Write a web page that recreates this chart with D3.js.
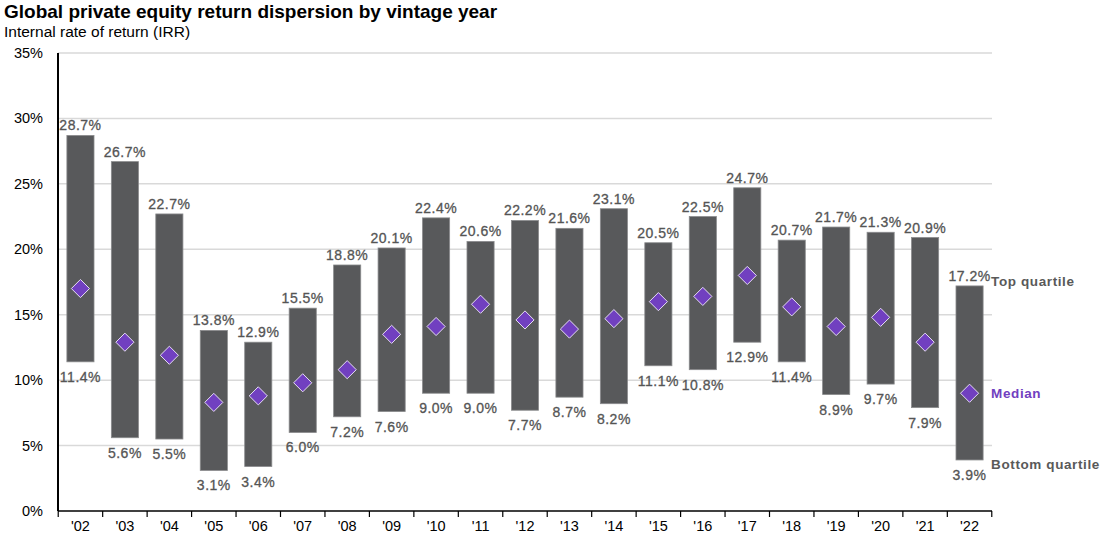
<!DOCTYPE html>
<html>
<head>
<meta charset="utf-8">
<script src="https://cdn.jsdelivr.net/npm/d3@7"></script>
<style>
  body { margin: 0; background: #fff; font-family: "Liberation Sans", Arial, sans-serif; }
</style>
</head>
<body>
<div id="chart"></div>
<script>
const years = ["'02","'03","'04","'05","'06","'07","'08","'09","'10","'11","'12","'13","'14","'15","'16","'17","'18","'19","'20","'21","'22"];
const topQuartile = [28.7,26.7,22.7,13.8,12.9,15.5,18.8,20.1,22.4,20.6,22.2,21.6,23.1,20.5,22.5,24.7,20.7,21.7,21.3,20.9,17.2];
const bottomQuartile = [11.4,5.6,5.5,3.1,3.4,6.0,7.2,7.6,9.0,9.0,7.7,8.7,8.2,11.1,10.8,12.9,11.4,8.9,9.7,7.9,3.9];
const median = [17.0,12.9,11.9,8.3,8.8,9.8,10.8,13.5,14.1,15.8,14.6,13.9,14.7,16.0,16.4,18.0,15.6,14.1,14.8,12.9,9.0];
const yTicks = [0,5,10,15,20,25,30,35];

const data = years.map((y, i) => ({ year: y, top: topQuartile[i], bottom: bottomQuartile[i], median: median[i] }));

const W = 1111, H = 543;
const margin = { top: 53, right: 119, bottom: 32, left: 58 };
const width = W - margin.left - margin.right;
const height = H - margin.top - margin.bottom;

const svg = d3.select("#chart").append("svg")
    .attr("width", W)
    .attr("height", H);

// title
svg.append("text")
    .attr("x", 4).attr("y", 18)
    .style("font-size", "19px").style("font-weight", "bold").style("fill", "#000")
    .text("Global private equity return dispersion by vintage year");
svg.append("text")
    .attr("x", 4).attr("y", 37)
    .style("font-size", "15.5px").style("fill", "#000")
    .text("Internal rate of return (IRR)");

const g = svg.append("g")
    .attr("transform", `translate(${margin.left}, ${margin.top})`);

const x = d3.scaleBand()
    .domain(years)
    .range([0, width])
    .paddingInner(0.39)
    .paddingOuter(0.2);

const y = d3.scaleLinear()
    .domain([0, 35])
    .range([height, 0]);

// gridlines
g.selectAll(".grid")
    .data(yTicks.filter(t => t > 0))
    .enter().append("line")
    .attr("x1", 0).attr("x2", width)
    .attr("y1", d => y(d)).attr("y2", d => y(d))
    .style("stroke", "#d9d9d9").style("stroke-width", 1.5);

// y axis labels
g.selectAll(".ylab")
    .data(yTicks)
    .enter().append("text")
    .attr("x", -15).attr("y", d => y(d) + 5)
    .style("text-anchor", "end")
    .style("font-size", "14.5px").style("fill", "#000")
    .text(d => d + "%");

// bars
g.selectAll(".bar")
    .data(data)
    .enter().append("rect")
    .attr("x", d => x(d.year))
    .attr("width", x.bandwidth())
    .attr("y", d => y(d.top))
    .attr("height", d => y(d.bottom) - y(d.top))
    .style("fill", "#58595b")
    .style("stroke", "#8a8b8d").style("stroke-width", 0.8);

// top labels
g.selectAll(".toplab")
    .data(data)
    .enter().append("text")
    .attr("x", d => x(d.year) + x.bandwidth() / 2)
    .attr("y", d => y(d.top) - 5)
    .style("text-anchor", "middle")
    .style("font-size", "14px").style("fill", "#555")
    .style("stroke", "#555").style("stroke-width", 0.3)
    .style("letter-spacing", "0.5px")
    .text(d => d.top.toFixed(1) + "%");

// bottom labels
g.selectAll(".botlab")
    .data(data)
    .enter().append("text")
    .attr("x", d => x(d.year) + x.bandwidth() / 2)
    .attr("y", d => y(d.bottom) + 20)
    .style("text-anchor", "middle")
    .style("font-size", "14px").style("fill", "#555")
    .style("stroke", "#555").style("stroke-width", 0.3)
    .style("letter-spacing", "0.5px")
    .text(d => d.bottom.toFixed(1) + "%");

// median diamonds
g.selectAll(".med")
    .data(data)
    .enter().append("path")
    .attr("d", d3.symbol().type(d3.symbolDiamond2).size(210))
    .attr("transform", d => `translate(${x(d.year) + x.bandwidth() / 2}, ${y(d.median)})`)
    .style("fill", "#7140c0")
    .style("stroke", "#e6dcf5").style("stroke-width", 1);

// x axis
const xAxis = g.append("g")
    .attr("transform", `translate(0, ${height})`);
xAxis.append("line")
    .attr("x1", 0).attr("x2", width)
    .style("stroke", "#000").style("stroke-width", 1.5);
xAxis.selectAll(".tick")
    .data(d3.range(years.length + 1))
    .enter().append("line")
    .attr("x1", i => i * x.step() + x.step() * (x.paddingOuter() - x.paddingInner() / 2))
    .attr("x2", i => i * x.step() + x.step() * (x.paddingOuter() - x.paddingInner() / 2))
    .attr("y1", 0).attr("y2", 6)
    .style("stroke", "#000").style("stroke-width", 1.2);
xAxis.selectAll(".xlab")
    .data(years)
    .enter().append("text")
    .attr("x", d => x(d) + x.bandwidth() / 2)
    .attr("y", 20)
    .style("text-anchor", "middle")
    .style("font-size", "14.5px").style("fill", "#000")
    .text(d => d);

// y axis line
g.append("line")
    .attr("x1", 0).attr("x2", 0)
    .attr("y1", 0).attr("y2", height)
    .style("stroke", "#000").style("stroke-width", 2);

// legend labels at the right of the last bar
const last = data[data.length - 1];
const lx = x(last.year) + x.bandwidth() + 8;
g.append("text")
    .attr("x", lx).attr("y", y(last.top) - 30 + 30)
    .style("font-size", "13.5px").style("font-weight", "bold").style("fill", "#595959")
    .style("letter-spacing", "0.6px")
    .text("Top quartile");
g.append("text")
    .attr("x", lx).attr("y", y(last.median) + 5)
    .style("font-size", "13.5px").style("font-weight", "bold").style("fill", "#7140c0")
    .style("letter-spacing", "0.6px")
    .text("Median");
g.append("text")
    .attr("x", lx).attr("y", y(last.bottom) + 9)
    .style("font-size", "13.5px").style("font-weight", "bold").style("fill", "#595959")
    .style("letter-spacing", "0.6px")
    .text("Bottom quartile");
</script>
</body>
</html>
